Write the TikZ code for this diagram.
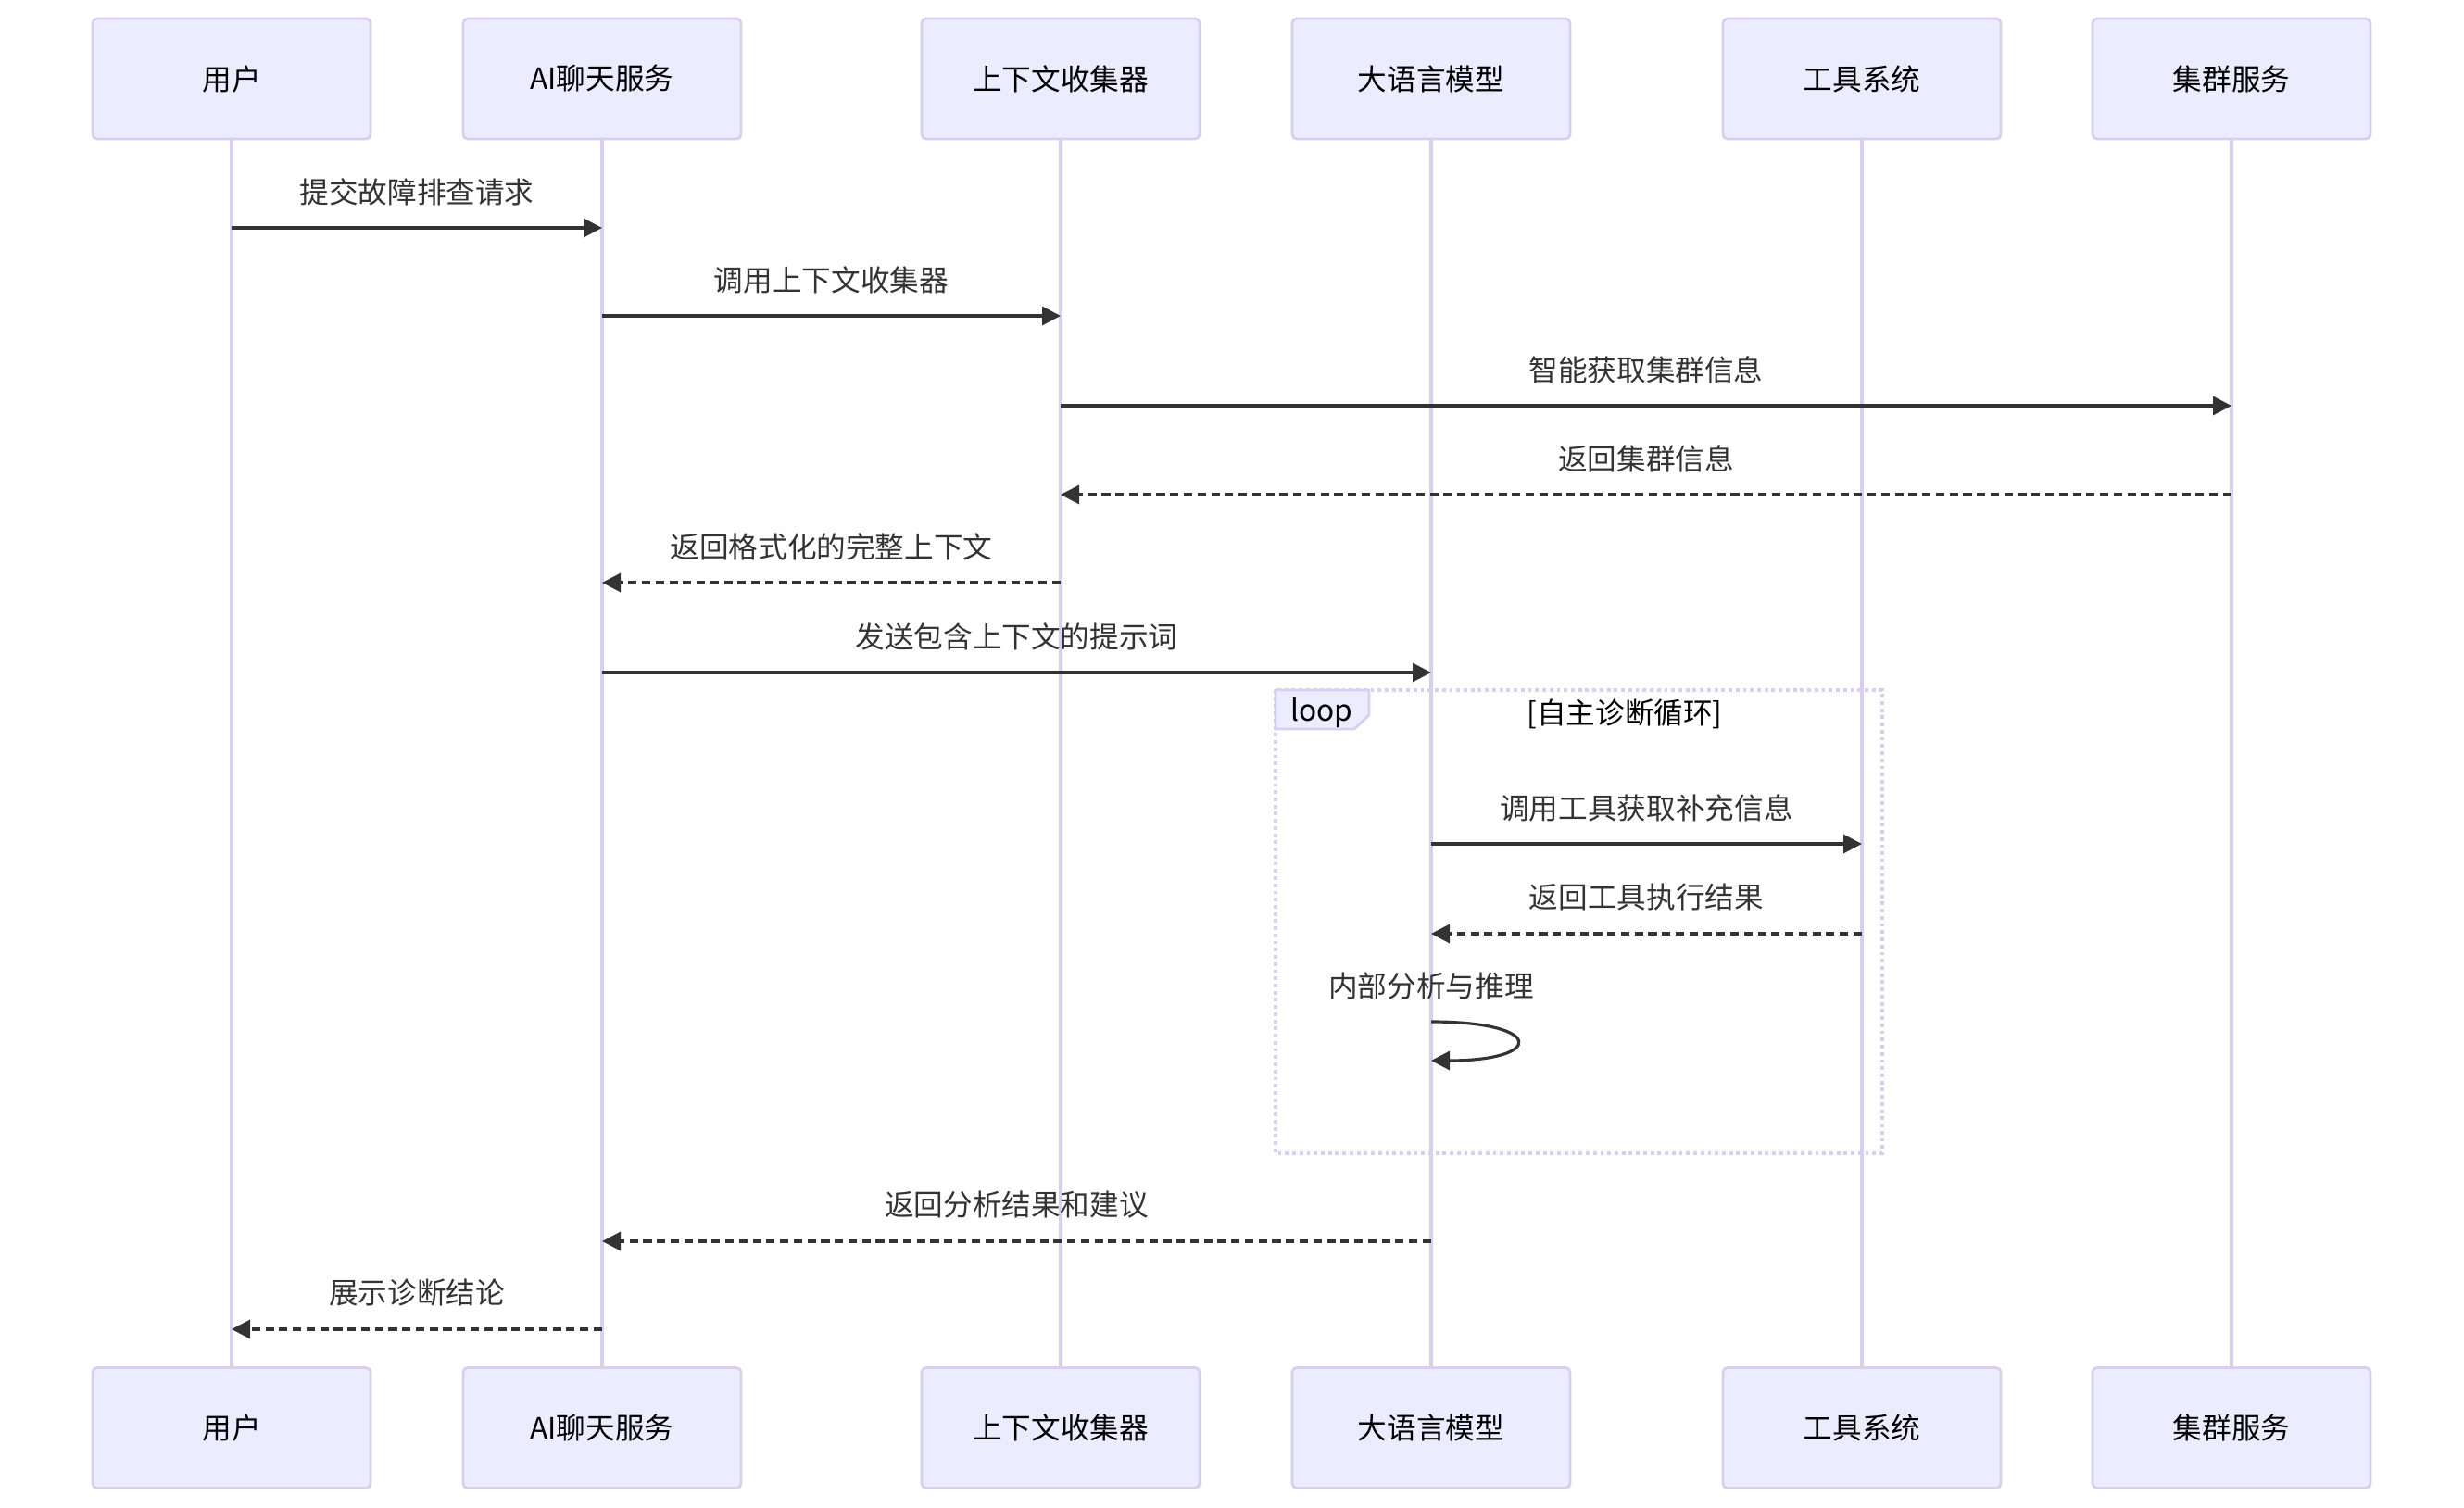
\documentclass[tikz,border=0pt]{standalone}
\usepackage{fontspec}
\setmainfont{Noto Sans CJK SC}
\usetikzlibrary{arrows.meta,positioning}
\definecolor{actorfill}{HTML}{ECECFF}
\definecolor{actorline}{HTML}{D7CEF1}
\definecolor{msgcolor}{HTML}{333333}

\begin{document}
\begin{tikzpicture}[node distance=4cm,on grid,font=\fontsize{9pt}{11pt}\selectfont]
  \tikzset{actor/.style={draw=actorline,fill=actorfill,line width=0.8pt,rounded corners=0.05cm,
      minimum width=3cm,minimum height=1.3cm,text=black},
    lifeline/.style={draw=actorline,line width=1pt},
    msg/.style={draw=msgcolor,line width=0.9pt,-{Triangle[length=0.2cm,width=0.2cm]}},
    reply/.style={msg,dash pattern=on 2.6pt off 1.6pt},
    msglabel/.style={text=msgcolor,yshift=0.39cm},
    loopframe/.style={draw=actorline,line width=1.1pt,dash pattern=on 1.1pt off 1.1pt}}
  \useasboundingbox (0,0) rectangle (26.6,-16.28);
  \node[actor] (user) at (2.5,-0.85) {用户};
  \node[actor] (ai) [right = of user] {AI聊天服务};
  \node[actor] (ctx) [right = 4.95cm of ai] {上下文收集器};
  \node[actor] (llm) [right = of ctx] {大语言模型};
  \node[actor] (tool) [right = 4.65cm of llm] {工具系统};
  \node[actor] (cluster) [right = 3.99cm of tool] {集群服务};
  \node[actor] (userb) [below = 14.565cm of user] {用户};
  \node[actor] (aib) [below = 14.565cm of ai] {AI聊天服务};
  \node[actor] (ctxb) [below = 14.565cm of ctx] {上下文收集器};
  \node[actor] (llmb) [below = 14.565cm of llm] {大语言模型};
  \node[actor] (toolb) [below = 14.565cm of tool] {工具系统};
  \node[actor] (clusterb) [below = 14.565cm of cluster] {集群服务};
  \foreach \a in {user,ai,ctx,llm,tool,cluster}
    \draw[lifeline] (\a.south) -- (\a b.north);
  \coordinate (r1) at (0,-2.46);
  \coordinate (r2) at (0,-3.41);
  \coordinate (r3) at (0,-4.38);
  \coordinate (r4) at (0,-5.34);
  \coordinate (r5) at (0,-6.29);
  \coordinate (r6) at (0,-7.26);
  \coordinate (r7) at (0,-9.11);
  \coordinate (r8) at (0,-10.08);
  \coordinate (s1) at (0,-11.03);
  \coordinate (s2) at (0,-11.45);
  \coordinate (r9) at (0,-13.40);
  \coordinate (r10) at (0,-14.35);
  \coordinate (loopnw) at (13.77,-7.45);
  \coordinate (loopse) at (20.32,-12.45);
  \draw[loopframe] (loopnw) rectangle (loopse);
  \draw[draw=actorline,fill=actorfill,line width=0.8pt] (loopnw) -- ++(1.01,0) -- ++(0,-0.27)
    -- ++(-0.16,-0.15) -- ++(-0.85,0) -- cycle;
  \node (looptag) at (14.27,-7.70) {loop};
  \node (loopcond) at (17.54,-7.71) {[自主诊断循环]};
  \draw[msg] (user |- r1) -- node[msglabel] {提交故障排查请求} (ai |- r1);
  \draw[msg] (ai |- r2) -- node[msglabel] {调用上下文收集器} (ctx |- r2);
  \draw[msg] (ctx |- r3) -- node[msglabel] {智能获取集群信息} (cluster |- r3);
  \draw[reply] (cluster |- r4) -- node[msglabel] {返回集群信息} (ctx |- r4);
  \draw[reply] (ctx |- r5) -- node[msglabel] {返回格式化的完整上下文} (ai |- r5);
  \draw[msg] (ai |- r6) -- node[msglabel] {发送包含上下文的提示词} (llm |- r6);
  \draw[msg] (llm |- r7) -- node[msglabel] {调用工具获取补充信息} (tool |- r7);
  \draw[reply] (tool |- r8) -- node[msglabel] {返回工具执行结果} (llm |- r8);
  \node[msglabel] (think) at (llm |- s1) {内部分析与推理};
  \draw[msg] (llm |- s1) .. controls +(1.23,0) and +(1.23,0) .. (llm |- s2);
  \draw[reply] (llm |- r9) -- node[msglabel] {返回分析结果和建议} (ai |- r9);
  \draw[reply] (ai |- r10) -- node[msglabel] {展示诊断结论} (user |- r10);
\end{tikzpicture}
\end{document}
